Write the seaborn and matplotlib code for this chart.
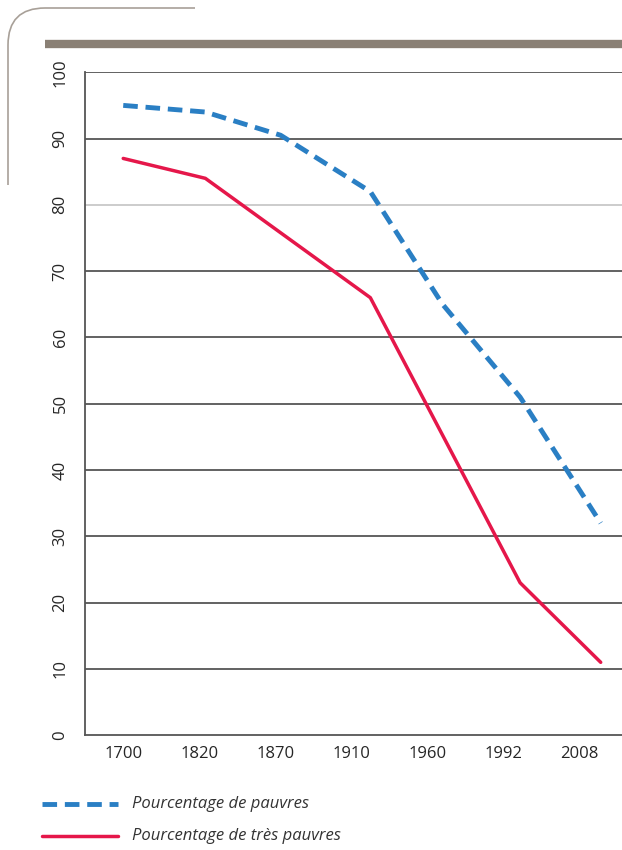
import numpy as np
import pandas as pd
import matplotlib.pyplot as plt
import seaborn as sns
from matplotlib.lines import Line2D
from matplotlib.path import Path
from matplotlib.patches import PathPatch

years = ['1700', '1820', '1870', '1910', '1960', '1992', '2008']
pos_poor = [0.5, 1.58, 2.57, 3.75, 4.7, 5.72, 6.78]
val_poor = [95, 94, 90.5, 82, 65, 51, 32]
pos_very = [0.5, 1.58, 3.75, 5.72, 6.78]
val_very = [87, 84, 66, 23, 11]

sns.set_style('white')
plt.rcParams['font.family'] = ['Open Sans', 'DejaVu Sans']

fig = plt.figure(figsize=(6.22, 8.5), dpi=100)
ax = fig.add_axes([0.137, 0.135, 0.863, 0.78])

for v in range(10, 101, 10):
    ax.axhline(v, color='#c8c8c8' if v == 80 else '#555555', lw=1.3, zorder=0)

sns.lineplot(x=pos_poor, y=val_poor, ax=ax, color='#2a7fc4', lw=3.5,
             linestyle=(0, (3, 1.6)))
sns.lineplot(x=pos_very, y=val_very, ax=ax, color='#e5174a', lw=2.5)

ax.set_xlim(0, 7.06)
ax.set_ylim(0, 100)
ax.set_yticks(range(0, 101, 10))
ax.set_yticklabels([str(v) for v in range(0, 101, 10)], rotation=90,
                   va='center', fontsize=12)
ax.set_xticks(np.arange(len(years)) + 0.5)
ax.set_xticklabels(years, fontsize=12)
ax.set_xticks(range(0, 8), minor=True)
ax.tick_params(axis='x', which='major', length=0, pad=8)
ax.tick_params(axis='x', which='minor', length=6, color='#555555', direction='out')
ax.tick_params(axis='y', length=6, color='#555555', direction='out', pad=6)
for s in ['top', 'right']:
    ax.spines[s].set_visible(False)
for s in ['left', 'bottom']:
    ax.spines[s].set_color('#555555')
    ax.spines[s].set_linewidth(1.3)

# thick top bar and rounded corner decoration
fig.add_artist(Line2D([45/622, 1], [1-44/850]*2, color='#8a8075', lw=6,
                      solid_capstyle='butt'))
W, H = 622, 850
verts = [(8/W, 1-185/H), (8/W, 1-45/H), (8/W, 1-8/H), (45/W, 1-8/H), (195/W, 1-8/H)]
codes = [Path.MOVETO, Path.LINETO, Path.CURVE3, Path.CURVE3, Path.LINETO]
fig.add_artist(PathPatch(Path(verts, codes), transform=fig.transFigure,
                         fill=False, edgecolor='#a8a098', lw=1.2))

# legend
fig.add_artist(Line2D([42/622, 118/622], [1-804/850]*2, color='#2a7fc4', lw=3.5,
                      linestyle=(0, (3, 1.6))))
fig.text(132/622, 1-804/850, 'Pourcentage de pauvres', fontsize=12,
         style='italic', va='center', color='#333333')
fig.add_artist(Line2D([42/622, 118/622], [1-836/850]*2, color='#e5174a', lw=2.5))
fig.text(132/622, 1-836/850, 'Pourcentage de très pauvres', fontsize=12,
         style='italic', va='center', color='#333333')

fig.savefig('out.png', dpi=100)
